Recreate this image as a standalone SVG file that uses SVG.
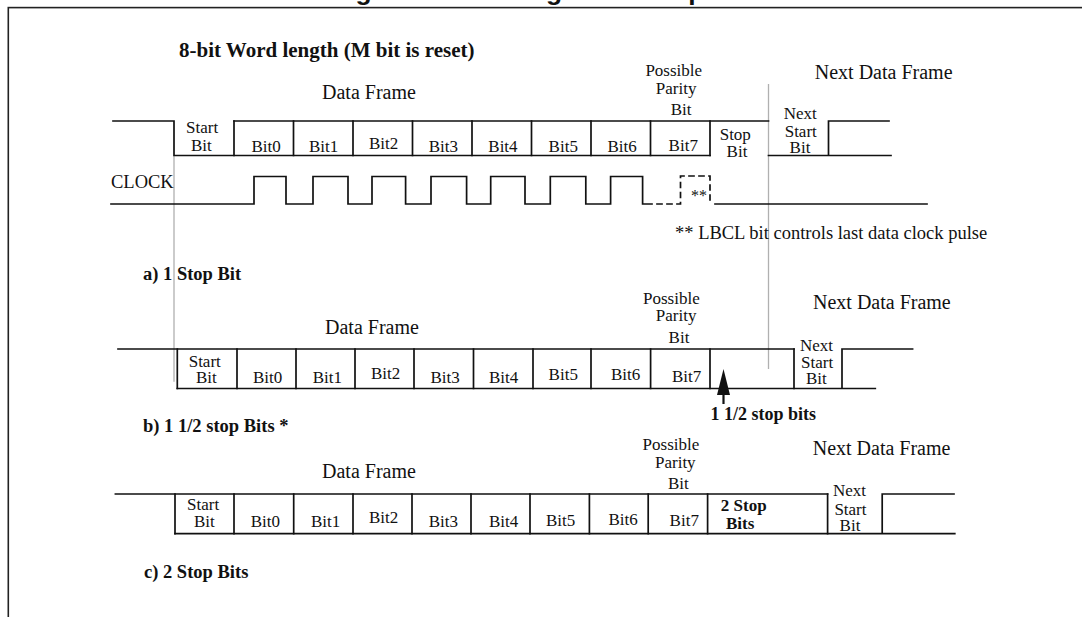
<svg xmlns="http://www.w3.org/2000/svg" width="1082" height="617" viewBox="0 0 1082 617">
<style>
.w{fill:none;stroke:#111;stroke-width:1.7;stroke-linecap:square}
.g{fill:none;stroke:#b0b0b0;stroke-width:1.3}
.t{font-family:"Liberation Serif","Times New Roman",serif;fill:#111}
.b{font-weight:bold}
.s17{font-size:17px}
.s18{font-size:18.5px}
.s20{font-size:20px}
</style>
<rect width="1082" height="617" fill="#fff"/>
<g id="frame">
<rect x="8.3" y="7.6" width="1100" height="700" fill="none" stroke="#222" stroke-width="1.6"/>
<text x="332" y="-0.5" font-family="Liberation Sans, Arial, sans-serif" font-weight="bold" font-size="26.4" fill="#111">Figure 279. Configurable stop bits</text>
</g>
<g id="heading">
<text class="t b" x="179" y="57.3" font-size="21">8-bit Word length (M bit is reset)</text>
</g>
<g id="guides">
<path class="g" d="M174 155.5V381.7M768.5 84V369"/>
</g>
<g id="waveform-a">
<text class="t s20" x="322" y="99.3">Data Frame</text>
<text class="t s17" x="645.4" y="76">Possible</text>
<text class="t s17" x="655.8" y="94.3">Parity</text>
<text class="t s17" x="670.7" y="114.9">Bit</text>
<text class="t s20" x="814.8" y="78.6">Next Data Frame</text>
<path class="w" d="M113 121H174V155.5H710M234 121H768.5M768.5 155.5H891M828.5 155.5V121H889"/>
<path class="w" d="M234 121V155.5M293.5 121V155.5M353 121V155.5M412.5 121V155.5M472 121V155.5M531.5 121V155.5M591 121V155.5M650.5 121V155.5M710 121V155.5"/>
<text class="t s17" x="186" y="133">Start</text>
<text class="t s17" x="191" y="151">Bit</text>
<text class="t s17" x="251.4" y="152">Bit0</text>
<text class="t s17" x="309" y="152">Bit1</text>
<text class="t s17" x="369" y="149">Bit2</text>
<text class="t s17" x="428.7" y="152">Bit3</text>
<text class="t s17" x="488.3" y="152">Bit4</text>
<text class="t s17" x="548.6" y="152">Bit5</text>
<text class="t s17" x="607.4" y="152">Bit6</text>
<text class="t s17" x="668.6" y="151">Bit7</text>
<text class="t s17" x="719.7" y="140">Stop</text>
<text class="t s17" x="726.6" y="156.5">Bit</text>
<text class="t s17" x="783.7" y="119.3">Next</text>
<text class="t s17" x="784.7" y="136.5">Start</text>
<text class="t s17" x="789.6" y="152.7">Bit</text>
</g>
<g id="clock">
<text class="t s18" x="111" y="188">CLOCK</text>
<path class="w" d="M111 204H254V176.5H286V204H313V176.5H348V204H372V176.5H405.6V204H431V176.5H466.6V204H490.7V176.5H525V204H550.3V176.5H585.8V204H610.6V176.5H642.6V204H652"/>
<path class="w" stroke-dasharray="5 5" d="M657 204H680.5V176H710V203"/>
<path class="w" d="M715 204H927"/>
<text class="t" x="691" y="201" font-size="16" fill="#333">**</text>
<text class="t s18" x="675" y="238.8">** LBCL bit controls last data clock pulse</text>
<text class="t s18 b" x="143" y="280">a) 1 Stop Bit</text>
</g>
<g id="waveform-b">
<text class="t s20" x="325" y="333.5">Data Frame</text>
<text class="t s17" x="643" y="304">Possible</text>
<text class="t s17" x="655.8" y="321.3">Parity</text>
<text class="t s17" x="668.6" y="343">Bit</text>
<text class="t s20" x="813" y="309.2">Next Data Frame</text>
<path class="w" d="M118 349H794M177.3 388.5H875.3M842 388.5V349H912.6"/>
<path class="w" d="M177.3 349V388.5M237 349V388.5M296 349V388.5M355 349V388.5M414 349V388.5M473.5 349V388.5M533 349V388.5M591 349V388.5M650.6 349V388.5M710 349V388.5M794 349V388.5"/>
<text class="t s17" x="188.7" y="367">Start</text>
<text class="t s17" x="196" y="382.7">Bit</text>
<text class="t s17" x="253" y="382.7">Bit0</text>
<text class="t s17" x="312.7" y="382.7">Bit1</text>
<text class="t s17" x="371" y="379">Bit2</text>
<text class="t s17" x="430.4" y="383.4">Bit3</text>
<text class="t s17" x="489" y="382.7">Bit4</text>
<text class="t s17" x="548.6" y="380">Bit5</text>
<text class="t s17" x="611" y="380">Bit6</text>
<text class="t s17" x="672" y="381.8">Bit7</text>
<text class="t s17" x="800" y="350.7">Next</text>
<text class="t s17" x="801" y="368">Start</text>
<text class="t s17" x="806" y="383.6">Bit</text>
<polygon points="723.5,369 717,395 730,395" fill="#111"/>
<path d="M723.5 394V404" stroke="#111" stroke-width="2.2"/>
<text class="t b" x="710.5" y="419.9" font-size="18">1 1/2 stop bits</text>
<text class="t s18 b" x="143" y="431.6">b) 1 1/2 stop Bits *</text>
</g>
<g id="waveform-c">
<text class="t s20" x="322" y="477.8">Data Frame</text>
<text class="t s17" x="642.6" y="450">Possible</text>
<text class="t s17" x="655" y="468">Parity</text>
<text class="t s17" x="668" y="488.8">Bit</text>
<text class="t s20" x="812.7" y="455.3">Next Data Frame</text>
<path class="w" d="M115.4 494H827.6M175 533.6H954.8M882.2 533.6V494H954"/>
<path class="w" d="M175 494V533.6M234 494V533.6M293.7 494V533.6M353 494V533.6M412 494V533.6M471 494V533.6M530 494V533.6M589.4 494V533.6M648.2 494V533.6M707.6 494V533.6M827.6 494V533.6"/>
<text class="t s17" x="187" y="510.2">Start</text>
<text class="t s17" x="194" y="527.4">Bit</text>
<text class="t s17" x="250.7" y="526.7">Bit0</text>
<text class="t s17" x="311" y="526.7">Bit1</text>
<text class="t s17" x="369" y="523.3">Bit2</text>
<text class="t s17" x="428.7" y="526.7">Bit3</text>
<text class="t s17" x="489" y="526.7">Bit4</text>
<text class="t s17" x="546" y="526">Bit5</text>
<text class="t s17" x="608.4" y="525">Bit6</text>
<text class="t s17" x="669.6" y="526">Bit7</text>
<text class="t s17 b" x="720.8" y="511.3">2 Stop</text>
<text class="t s17 b" x="726" y="528.6">Bits</text>
<text class="t s17" x="833" y="496.4">Next</text>
<text class="t s17" x="834.4" y="515.4">Start</text>
<text class="t s17" x="839.6" y="531">Bit</text>
<text class="t s18 b" x="144" y="578.4">c) 2 Stop Bits</text>
</g>
</svg>
